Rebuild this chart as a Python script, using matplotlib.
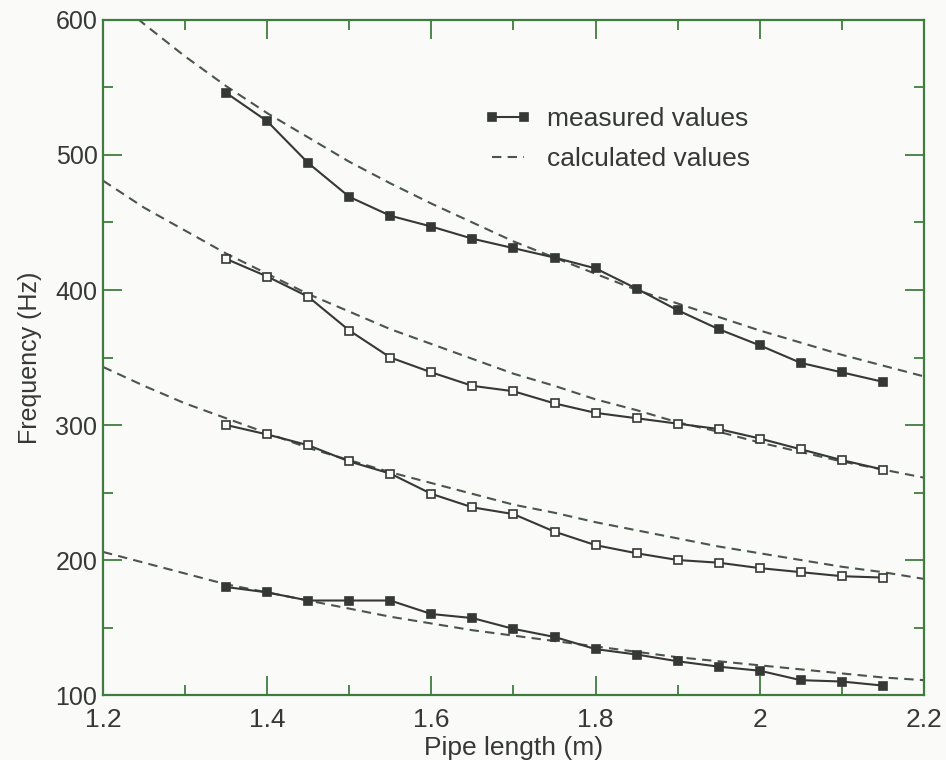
"""Pipe length vs frequency: measured and calculated values."""
import matplotlib
matplotlib.use("Agg")
import matplotlib.pyplot as plt

plt.rcParams["font.family"] = ["Liberation Sans", "DejaVu Sans"]

INK, FRAME, BG = "#353835", "#3f7d3f", "#fafaf8"

# measured points (x = 1.35 .. 2.15, step 0.05)
pipe_len = [1.35, 1.40, 1.45, 1.50, 1.55, 1.60, 1.65, 1.70, 1.75,
            1.80, 1.85, 1.90, 1.95, 2.00, 2.05, 2.10, 2.15]
meas_1 = [546, 525, 494, 469, 455, 447, 438, 431, 424,
          416, 401, 385, 371, 359, 346, 339, 332]
meas_2 = [423, 410, 395, 370, 350, 339, 329, 325, 316,
          309, 305, 301, 297, 290, 282, 274, 267]
meas_3 = [300, 293, 285, 273, 264, 249, 239, 234, 221,
          211, 205, 200, 198, 194, 191, 188, 187]
meas_4 = [180, 176, 170, 170, 170, 160, 157, 149, 143,
          134, 130, 125, 121, 118, 111, 110, 107]

# calculated curves (x = 1.2 .. 2.2, step 0.05)
calc_len = [1.20, 1.25, 1.30, 1.35, 1.40, 1.45, 1.50, 1.55, 1.60, 1.65, 1.70,
            1.75, 1.80, 1.85, 1.90, 1.95, 2.00, 2.05, 2.10, 2.15, 2.20]
calc_1 = [622, 597, 573, 551, 531, 513, 495, 479, 464, 450, 436,
          424, 412, 400, 390, 380, 370, 361, 352, 344, 336]
calc_2 = [481, 461, 444, 427, 412, 397, 384, 371, 360, 349, 338,
          329, 319, 311, 302, 295, 287, 280, 273, 267, 261]
calc_3 = [343, 329, 316, 305, 294, 283, 274, 265, 257, 249, 241,
          235, 228, 222, 216, 210, 205, 200, 195, 191, 186]
calc_4 = [206, 198, 190, 182, 176, 170, 164, 158, 153, 148, 144,
          140, 136, 132, 128, 125, 122, 119, 116, 113, 111]

measured = [(meas_1, INK), (meas_2, BG), (meas_3, BG), (meas_4, INK)]
calculated = [calc_1, calc_2, calc_3, calc_4]

fig = plt.figure(figsize=(9.46, 7.6), dpi=100, facecolor=BG)
ax = fig.add_axes([0.1089, 0.0855, 0.8678, 0.8882], facecolor=BG)

for k, c in enumerate(calculated):
    ax.plot(calc_len, c, ls=(0, (4.5, 3)), color="#4a564a", lw=1.5,
            label="calculated values" if k == 0 else None, zorder=2)
for k, (m, face) in enumerate(measured):
    ax.plot(pipe_len, m, "-s", color=INK, lw=1.5, ms=5.5, mfc=face, mec=INK, mew=1.2,
            label="measured values" if k == 0 else None, zorder=3)

ax.set_xlim(1.2, 2.2); ax.set_ylim(100, 600)
ax.set_xticks([1.2, 1.4, 1.6, 1.8, 2.0, 2.2])
ax.set_xticklabels(["1.2", "1.4", "1.6", "1.8", "2", "2.2"])
ax.set_xticks([1.3, 1.5, 1.7, 1.9, 2.1], minor=True)
ax.set_yticks([100, 200, 300, 400, 500, 600])
ax.set_yticks([150, 250, 350, 450, 550], minor=True)
ax.tick_params(which="both", direction="in", top=True, right=True, color=FRAME, width=1.3,
               labelsize=19, labelcolor=INK)
ax.tick_params(which="major", length=14)
ax.tick_params(which="minor", length=7)
ax.tick_params(axis="x", pad=9)
ax.tick_params(axis="y", pad=4, labelsize=18)
for s in ax.spines.values():
    s.set_color(FRAME); s.set_linewidth(1.6)

ax.set_xlabel("Pipe length (m)", fontsize=19, color=INK, labelpad=3)
ax.set_ylabel("Frequency (Hz)", fontsize=18, color=INK, labelpad=10)

h, l = ax.get_legend_handles_labels()
ax.legend(h[::-1], l[::-1], loc="upper left", bbox_to_anchor=(0.448, 0.89), frameon=False,
          fontsize=19, handlelength=1.8, handletextpad=0.6, labelspacing=0.6,
          numpoints=2, borderpad=0, labelcolor=INK)

fig.savefig("out.png", dpi=100, facecolor=BG)
